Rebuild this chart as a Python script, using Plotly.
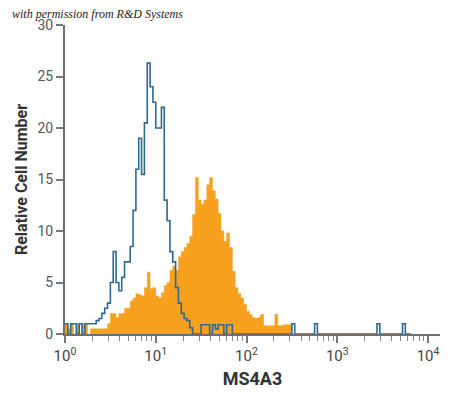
import plotly.graph_objects as go

# Histogram channels: 32 bins per decade, from 10^0 upward (bin index -> lower edge 10^(i/32))
bins_per_decade = 32

# Isotype control (blue outline), relative cell number per channel
isotype_counts = [
    1, 0, 1, 1, 0, 1, 0, 1, 1, 1,
    1, 1.3, 1.5, 2, 2.5, 3, 5, 8, 5, 4.2,
    5.5, 7, 7, 8.5, 12, 16, 19, 15.5, 20.5, 26.3,
    24, 22.5, 20, 20, 22, 13, 11, 8, 7, 4.5,
    3, 2, 1.5, 1.3, 0.6, 0, 0, 0, 0.9, 0.9,
    0.9, 0, 0.9, 0.5, 0.9, 0.9, 0, 0.9, 0.9, 0,
    0, 0, 0, 0, 0, 0, 0, 0, 0, 0,
    0, 0, 0, 0, 0, 0, 0, 0, 0, 0,
    1, 0, 0, 0, 0, 0, 0, 0, 1, 0,
    0, 0, 0, 0, 0, 0, 0, 0, 0, 0,
    0, 0, 0, 0, 0, 0, 0, 0, 0, 0,
    1, 0, 0, 0, 0, 0, 0, 0, 0, 1,
    0, 0,
]

# MS4A3 stained sample (orange filled), relative cell number per channel
ms4a3_counts = [
    1, 0.5, 1, 0, 1, 0, 1, 1, 0, 0.5,
    0.5, 0.5, 0.5, 0.5, 0.5, 1, 2, 2, 1.6, 2,
    2, 2.5, 2.5, 3.2, 3.5, 3.9, 3.8, 3.7, 4.5, 6,
    4.4, 4.5, 3.7, 3.5, 4, 4.7, 5, 6.2, 6.6, 6.2,
    7.5, 8, 8.4, 8.8, 9.5, 11.6, 15.2, 13, 12.6, 13,
    14.5, 15.2, 13.9, 13.1, 11.7, 10, 9, 9.8, 8.4, 6.1,
    4.5, 3.9, 3.5, 2.9, 2.2, 1.9, 1.6, 1.5, 1.6, 1.9,
    0.8, 0.8, 0.8, 0.8, 1.9, 0.8, 0.8, 0.9, 0.9, 0.9,
    0,
]

x_tick_values = [1, 10, 100, 1000, 10000]
x_tick_labels = ["10<sup>0</sup>", "10<sup>1</sup>", "10<sup>2</sup>", "10<sup>3</sup>", "10<sup>4</sup>"]
y_tick_values = [0, 5, 10, 15, 20, 25, 30]


def step_xy(counts):
    xs = [10 ** (i / bins_per_decade) for i in range(len(counts) + 1)]
    ys = list(counts) + [0]
    return xs, ys


ox, oy = step_xy(ms4a3_counts)
bx, by = step_xy(isotype_counts)

minor_vals = [k * 10 ** d for d in range(4) for k in range(2, 10)]

fig = go.Figure()
fig.add_trace(go.Scatter(
    x=ox, y=oy, mode="lines", line=dict(shape="hv", width=0.5, color="#F7A11E"),
    fill="tozeroy", fillcolor="#F7A11E", hoverinfo="skip", showlegend=False,
))
fig.add_trace(go.Scatter(
    x=bx, y=by, mode="lines", line=dict(shape="hv", width=1.6, color="#2D6A92"),
    hoverinfo="skip", showlegend=False,
))

label_family = "Roboto, Liberation Sans, sans-serif"

fig.update_layout(
    width=450, height=394,
    margin=dict(l=65, r=10, t=25, b=60, autoexpand=False),
    paper_bgcolor="white", plot_bgcolor="white",
    xaxis=dict(
        type="log", range=[0, 4.132], automargin=False,
        tickvals=x_tick_values, ticktext=x_tick_labels,
        ticks="outside", ticklen=7, tickwidth=1.5, tickcolor="#777777",
        minor=dict(tickvals=minor_vals, ticks="outside", ticklen=5, tickwidth=1, tickcolor="#888888"),
        showline=True, linecolor="#6E6E6E", linewidth=2,
        showgrid=False, zeroline=False,
        tickfont=dict(family=label_family, size=15, color="#444444"),
        title=dict(text="<b>MS4A3</b>", font=dict(family=label_family, size=18, color="#333333"), standoff=8),
    ),
    yaxis=dict(
        range=[0, 30], tickvals=y_tick_values, automargin=False,
        ticks="outside", ticklen=7, tickwidth=1.5, tickcolor="#777777",
        showline=True, linecolor="#6E6E6E", linewidth=2,
        showgrid=False, zeroline=False,
        tickfont=dict(family=label_family, size=14, color="#555555"),
        title=dict(text="<b>Relative Cell Number</b>", font=dict(family=label_family, size=16, color="#333333"), standoff=6),
    ),
    annotations=[dict(
        text="<i>with permission from R&amp;D Systems</i>",
        xref="paper", yref="paper", x=-55 / 375, y=1 + 11 / 309,
        xanchor="left", yanchor="middle", showarrow=False,
        font=dict(family="Liberation Serif, DejaVu Serif, serif", size=12, color="#222222"),
    )],
)

fig.write_html(
    "out.html",
    config={"displayModeBar": False},
    post_script="document.body.style.margin='0';document.body.style.overflow='hidden';",
)
